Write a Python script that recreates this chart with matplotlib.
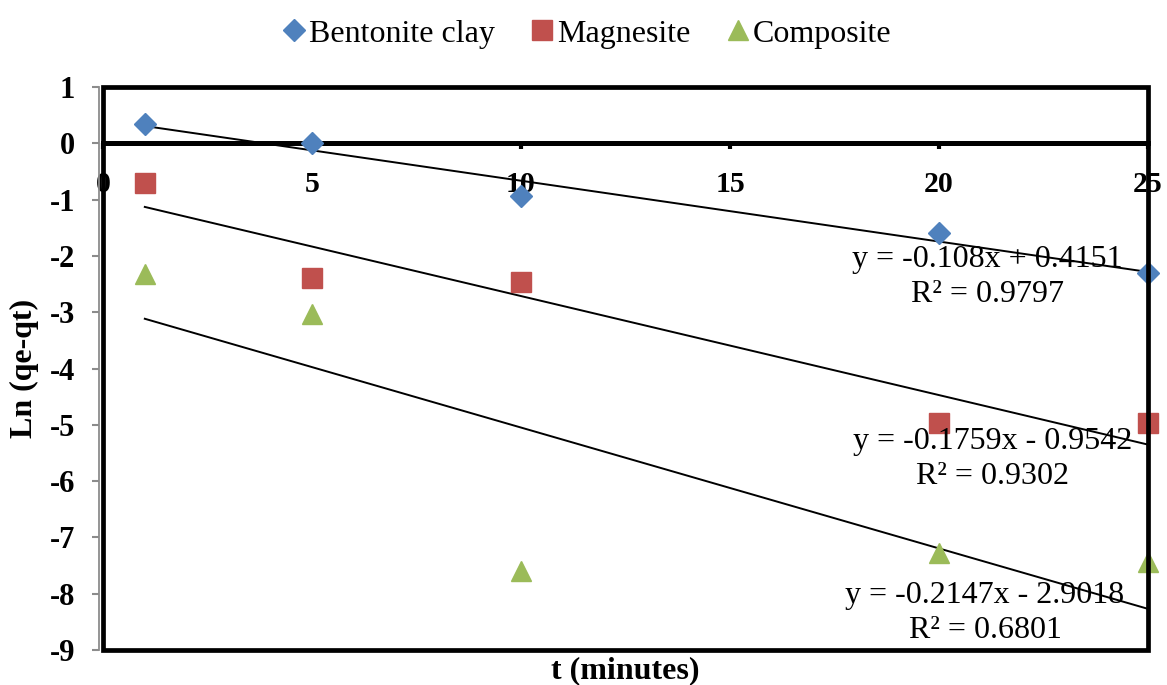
import numpy as np
import matplotlib
matplotlib.use("Agg")
import matplotlib.pyplot as plt
from matplotlib.patches import Rectangle

plt.rcParams['font.family'] = ['Liberation Serif', 'DejaVu Serif']

# Sampling times (minutes)
t_min = [1, 5, 10, 20, 25]

# ln(qe - qt) for each adsorbent
bentonite = [0.34, 0.0, -0.93, -1.60, -2.31]
magnesite = [-0.71, -2.40, -2.47, -4.96, -4.96]
composite = [-2.33, -3.03, -7.60, -7.27, -7.43]

# Linear trendline coefficients (slope, intercept) and R²
fit_bentonite = (-0.108, 0.4151, 0.9797)
fit_magnesite = (-0.1759, -0.9542, 0.9302)
fit_composite = (-0.2147, -2.9018, 0.6801)

series_names = ['Bentonite clay', 'Magnesite', 'Composite']
x_ticks = [0, 5, 10, 15, 20, 25]
y_ticks = [-9, -8, -7, -6, -5, -4, -3, -2, -1, 0, 1]

colors = ['#4F81BD', '#C0504D', '#9BBB59']
markers = ['D', 's', '^']
msizes = [11, 14, 14]

fig = plt.figure(figsize=(11.67, 6.85), dpi=100)
ax = fig.add_axes([103 / 1167, 1 - 650 / 685, (1148 - 103) / 1167, (650 - 87) / 685])

series = [bentonite, magnesite, composite]
fits = [fit_bentonite, fit_magnesite, fit_composite]

for name, ys, c, m, ms in zip(series_names, series, colors, markers, msizes):
    ax.plot(t_min, ys, linestyle='none', marker=m, markersize=ms,
            color=c, markeredgecolor=c, label=name, zorder=4, clip_on=False)

# Trendlines drawn from their stated equations
xl = np.array([t_min[0], t_min[-1]], dtype=float)
for slope, icpt, r2 in fits:
    ax.plot(xl, slope * xl + icpt, color='black', lw=1.4, zorder=3)

def eq_text(slope, icpt, r2):
    sign = '+' if icpt >= 0 else '-'
    return f"y = {slope:g}x {sign} {abs(icpt):g}\nR² = {r2:.4f}"

eq_pos = [(0.846, 0.6625), (0.851, 0.339), (0.844, 0.066)]
for (slope, icpt, r2), (px, py) in zip(fits, eq_pos):
    ax.text(px, py, eq_text(slope, icpt, r2), transform=ax.transAxes,
            ha='center', va='center', fontsize=23, linespacing=1.27, zorder=5)

ax.set_xlim(0, 25)
ax.set_ylim(-9, 1)
ax.set_xticks(x_ticks)
ax.set_yticks(y_ticks)

# Horizontal axis crosses at y = 0
ax.spines['bottom'].set_position(('data', 0))
ax.spines['bottom'].set_linewidth(3.6)
ax.spines['top'].set_visible(False)
ax.spines['right'].set_visible(False)
ax.spines['left'].set_position(('outward', 3))
ax.spines['left'].set_linewidth(1.3)
ax.spines['left'].set_color('#8c8c8c')

# Plot area border
ax.add_patch(Rectangle((0, 0), 1, 1, transform=ax.transAxes, fill=False,
                       lw=3.4, edgecolor='black', clip_on=False, zorder=6))

ax.tick_params(axis='x', direction='out', length=4, width=3, color='black',
               pad=16, labelsize=21.5)
ax.tick_params(axis='y', direction='out', length=5, width=1.5, color='#8c8c8c',
               pad=12, labelsize=22)
ax.set_yticklabels([str(v) for v in y_ticks])
for lab in ax.get_xticklabels() + ax.get_yticklabels():
    lab.set_fontweight('bold')

ax.set_ylabel('Ln (qe-qt)', fontsize=23, fontweight='bold')
ax.yaxis.set_label_coords(-0.061, 0.5)
fig.text(625 / 1167, 1 - 671 / 685, 't (minutes)', ha='center', va='center',
         fontsize=23, fontweight='bold')

leg = fig.legend(loc='center', bbox_to_anchor=(587 / 1167, 1 - 34 / 685), ncol=3,
                 frameon=False, fontsize=23, handletextpad=0.1, columnspacing=1.15,
                 handlelength=0.7, markerscale=1.0)

fig.savefig('out.png', dpi=100)
